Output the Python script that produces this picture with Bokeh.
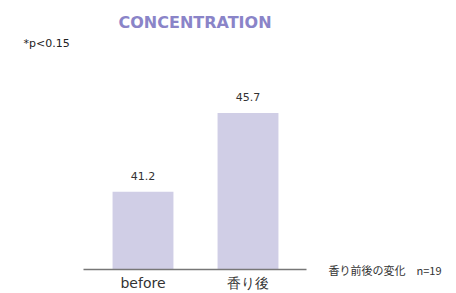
from bokeh.plotting import figure
from bokeh.models import Range1d, FixedTicker, Label, ColumnDataSource, LabelSet
from bokeh.core.properties import value
from bokeh.embed import file_html
from bokeh.resources import INLINE

categories = ["before", "香り後"]
values = [41.2, 45.7]
value_labels = ["41.2", "45.7"]
title_text = "CONCENTRATION"
note_text = "*p<0.15"
caption_text = "香り前後の変化　n=19"

W, H = 456, 293
UNIT = 105.0             # px between category centres
C0 = 142.5               # px of first category centre
PX_PER_VAL = 17.49
BASE_PX = 268.5          # px of the baseline
Y0 = 36.78               # value at the baseline

x_start = -C0 / UNIT
x_end = (W - C0) / UNIT
y_start = Y0 - (H - BASE_PX) / PX_PER_VAL
y_end = Y0 + BASE_PX / PX_PER_VAL


def dx(px):
    return x_start + px / UNIT


def dy(px):
    return y_end - px / PX_PER_VAL


xs = list(range(len(categories)))
src = ColumnDataSource(dict(x=xs, top=values, lab=value_labels,
                            base=[Y0] * len(xs), cat=categories))

p = figure(width=W, height=H, output_backend="svg", toolbar_location=None,
           x_range=Range1d(x_start, x_end), y_range=Range1d(y_start, y_end),
           y_axis_location=None,
           min_border_left=0, min_border_right=0, min_border_top=0,
           min_border_bottom=0)
p.outline_line_color = None
p.background_fill_color = None
p.border_fill_color = None
p.grid.visible = False

p.vbar(x="x", top="top", bottom="base", width=0.58, source=src,
       fill_color="#d0cee6", line_color=None)

# value labels above the bars
p.add_layout(LabelSet(x="x", y="top", text="lab", source=src, text_align="center",
                      text_baseline="alphabetic", y_offset=12,
                      text_font=value("DejaVu Sans"), text_font_size="11px",
                      text_color="#333333"))

# baseline axis drawn at the baseline value
xa = p.xaxis[0]
xa.fixed_location = Y0
xa.ticker = FixedTicker(ticks=[])
xa.bounds = (dx(83), dx(306))
xa.major_tick_out = 0
xa.major_tick_in = 0
xa.minor_tick_out = 0
xa.minor_tick_in = 0
xa.major_label_standoff = 0
xa.axis_line_color = "#777777"
xa.axis_line_width = 1.5

# category labels under the baseline
p.add_layout(LabelSet(x="x", y="base", text="cat", source=src, text_align="center",
                      text_baseline="alphabetic", y_offset=-19,
                      text_font=value("DejaVu Sans"), text_font_size="14px",
                      text_color="#333333"))

p.add_layout(Label(x=dx(194.5), y=dy(22), text=title_text, text_align="center",
                   text_baseline="alphabetic",
                   text_font="DejaVu Sans", text_font_size="16px",
                   text_font_style="bold", text_color="#8a84c8"))
p.add_layout(Label(x=dx(23), y=dy(43), text=note_text, text_font="DejaVu Sans",
                   text_baseline="alphabetic",
                   text_font_size="11px", text_color="#222222"))
p.add_layout(Label(x=dx(328), y=dy(269), text=caption_text,
                   text_font="Noto Sans CJK JP", text_font_size="11px",
                   text_color="#333333", text_baseline="middle"))

open("out.html", "w").write(file_html(p, INLINE))
